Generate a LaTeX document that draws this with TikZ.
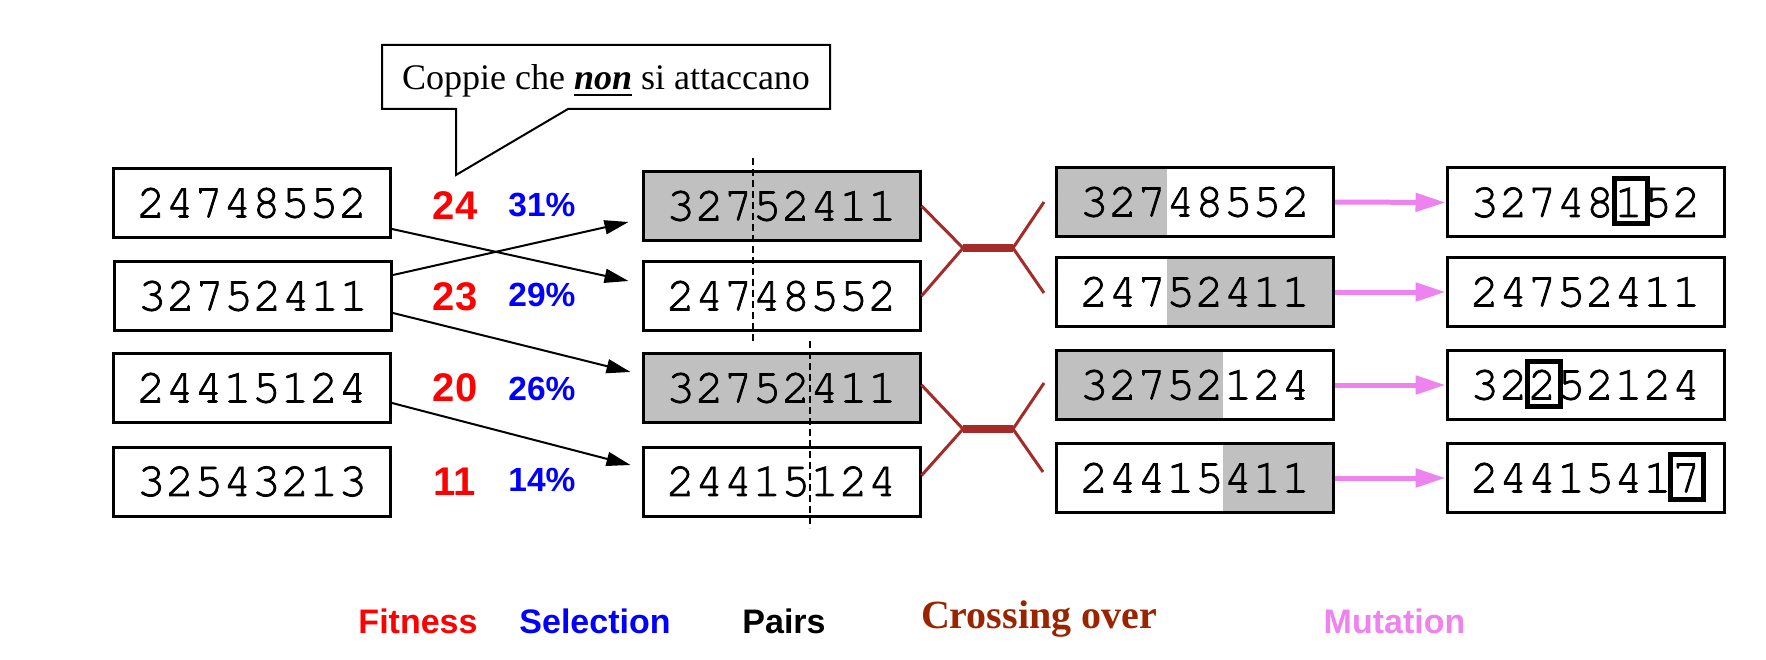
\documentclass[tikz,border=0pt]{standalone}
\usepackage{fontspec}
\setmainfont{Liberation Serif}
\setsansfont{Liberation Sans}
\setmonofont{TeX Gyre Cursor}[FakeBold=1.6]
\usetikzlibrary{arrows.meta,calc}
\definecolor{boxgray}{RGB}{192,192,192}
\definecolor{xbrown}{RGB}{165,42,42}
\definecolor{xbrowntext}{RGB}{153,36,0}
\definecolor{mutviolet}{RGB}{238,130,238}
\newcommand\myul[1]{\setbox0\hbox{#1}\rlap{\rule[-6.5pt]{\wd0}{2.5pt}}\box0\relax}
\begin{document}
\begin{tikzpicture}[x=1pt,y=-1pt,
  chrom/.style={draw=black, line width=3pt, fill=white, minimum width=277pt, minimum height=69pt, inner sep=0pt, font=\fontsize{48}{50}\selectfont\ttfamily},
  gfull/.style={fill=boxgray},
  gleft/.style={path picture={\fill[boxgray] (path picture bounding box.south west) rectangle ([xshift=#1]path picture bounding box.north west);}},
  gright/.style={path picture={\fill[boxgray] ([xshift=#1]path picture bounding box.south west) rectangle (path picture bounding box.north east);}},
  fitn/.style={anchor=base, text=red, font=\fontsize{40}{44}\selectfont\sffamily\bfseries, inner sep=0pt},
  seln/.style={anchor=base, text=blue, font=\fontsize{33.5}{38}\selectfont\sffamily\bfseries, inner sep=0pt},
  lab/.style={anchor=base, font=\fontsize{34}{38}\selectfont\sffamily\bfseries, inner sep=0pt},
  selarr/.style={draw=black, line width=2pt, -{Triangle[length=24pt,width=14pt]}},
  mut/.style={draw=mutviolet, line width=5pt, -{Triangle[length=30pt,width=18pt]}},
  xo/.style={draw=xbrown, line width=3pt, line join=round},
  xobar/.style={draw=xbrown, line width=8pt},
  cut/.style={draw=black, line width=2pt, dash pattern=on 7pt off 4pt},
  hl/.style={draw=black, line width=5pt, minimum width=33pt, minimum height=45pt, inner sep=0pt}
]
\useasboundingbox (0,0) rectangle (1766,660);

% callout
\draw[line width=2pt, fill=white] (382,45) -- (830,45) -- (830,109) -- (568,109) -- (456,175) -- (456,109) -- (382,109) -- cycle;
\node[anchor=base, inner sep=0pt, font=\fontsize{36}{40}\selectfont] (callout) at (606,90) {Coppie che \myul{\textbf{\textit{non}}} si attaccano};

% population
\node[chrom] (b1) at (252,203) {24748552};
\node[chrom] (b2) at (253,296) {32752411};
\node[chrom] (b3) at (252,388) {24415124};
\node[chrom] (b4) at (252,481.5) {32543213};

% fitness and selection
\node[fitn] (f1n) at (455,220) {24};
\node[fitn] (f2n) at (455,310) {23};
\node[fitn] (f3n) at (455,401.5) {20};
\node[fitn] (f4n) at (455,495) {11};
\node[seln] (s1) at (542,216.5) {31\%};
\node[seln] (s2) at (542,306.5) {29\%};
\node[seln] (s3) at (542,400) {26\%};
\node[seln] (s4) at (542,491.5) {14\%};

% pairs
\node[chrom,gfull] (m1) at (781.5,206) {32752411};
\node[chrom] (m2) at (781.5,296) {24748552};
\node[chrom,gfull] (m3) at (781.5,388) {32752411};
\node[chrom] (m4) at (781.5,481.5) {24415124};

\draw[selarr] ($(b1.east)+(0,26)$) -- ($(m2.west)+(-13,-15)$);
\draw[selarr] ($(b2.east)+(0,-21)$) -- ($(m1.west)+(-13,16)$);
\draw[selarr] ($(b2.east)+(0,17)$) -- ($(m3.west)+(-11,-16)$);
\draw[selarr] ($(b3.east)+(0,15)$) -- ($(m4.west)+(-11,-16.5)$);

\draw[cut] (753,158) -- (753,342);
\draw[cut] (810,341) -- (810,528);

% crossing over results
\node[chrom,gleft=110pt] (c1) at (1195,202) {32748552};
\node[chrom,gright=110pt] (c2) at (1195,292) {24752411};
\node[chrom,gleft=166pt] (c3) at (1195,385) {32752124};
\node[chrom,gright=166pt] (c4) at (1195,478) {24415411};

\coordinate (j1l) at (963,248);
\coordinate (j1r) at (1013,248);
\coordinate (j2l) at (963,429);
\coordinate (j2r) at (1013,429);
\draw[xo] (m1.east) -- (j1l) -- (m2.east);
\draw[xo] ($(c1.west)+(-11,0)$) -- (j1r) -- ($(c2.west)+(-11,1)$);
\draw[xobar] (j1l) -- (j1r);
\draw[xo] ($(m3.east)+(0,-3)$) -- (j2l) -- ($(m4.east)+(0,-6)$);
\draw[xo] ($(c3.west)+(-11,-2)$) -- (j2r) -- ($(c4.west)+(-12,-6)$);
\draw[xobar] (j2l) -- (j2r);

% mutation
\node[chrom] (g1) at (1585.5,202.5) {32748152};
\node[chrom] (g2) at (1585.5,292) {24752411};
\node[chrom] (g3) at (1585.5,385) {32252124};
\node[chrom] (g4) at (1585.5,478) {24415417};
\draw[mut] (c1.east) -- (g1.west);
\draw[mut] (c2.east) -- (g2.west);
\draw[mut] (c3.east) -- (g3.west);
\draw[mut] (c4.east) -- (g4.west);
\node[hl] (h1) at ($(g1.center)+(45,-1.5)$) {};
\node[hl] (h3) at ($(g3.center)+(-42,-1)$) {};
\node[hl] (h4) at ($(g4.center)+(101,-1.3)$) {};

% legend
\node[lab, text=red] (lfit) at (418,633) {Fitness};
\node[lab, text=blue] (lsel) at (595,633) {Selection};
\node[lab, text=black] (lpair) at (784,633) {Pairs};
\node[anchor=base, inner sep=0pt, text=xbrowntext, font=\fontsize{40}{44}\selectfont\rmfamily\bfseries] (lxo) at (1039,628) {Crossing over};
\node[lab, text=mutviolet] (lmut) at (1394.5,633) {Mutation};
\end{tikzpicture}
\end{document}
